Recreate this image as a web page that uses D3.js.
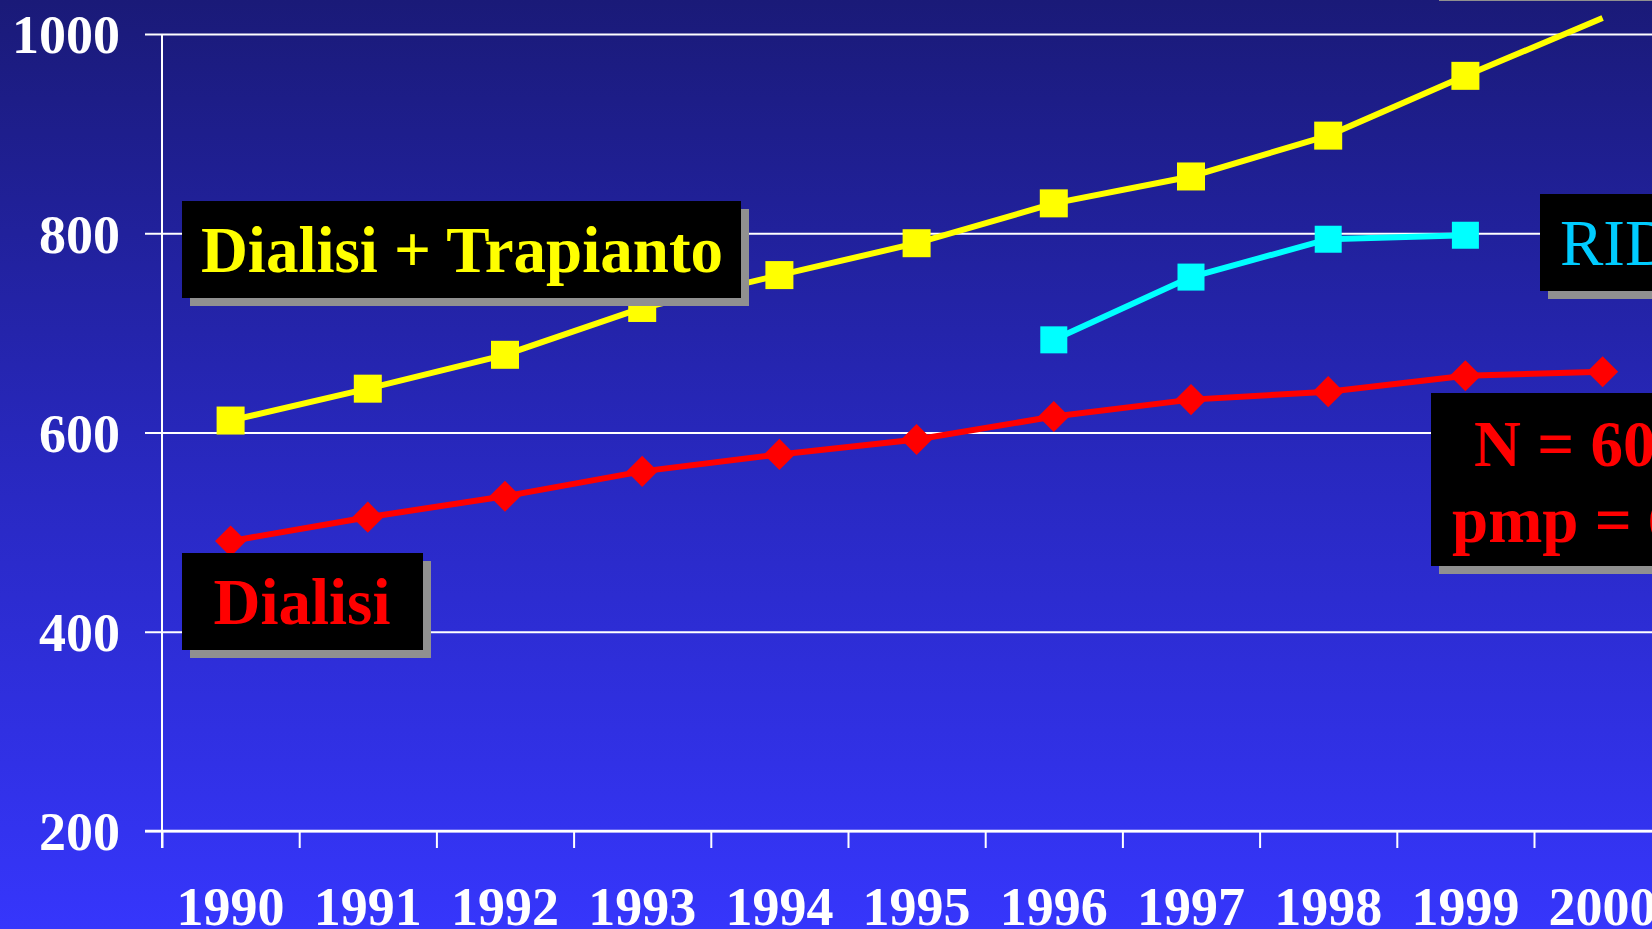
<!DOCTYPE html>
<html>
<head>
<meta charset="utf-8">
<script src="https://cdn.jsdelivr.net/npm/d3@7"></script>
<style>
  html, body { margin: 0; padding: 0; overflow: hidden; }
  svg { display: block; }
  text { font-family: "Liberation Serif", "Times New Roman", serif; }
</style>
</head>
<body>
<div id="chart"></div>
<script>
// anni e valori (pmp)
var years = ["1990", "1991", "1992", "1993", "1994", "1995", "1996", "1997", "1998", "1999", "2000"];
var dialisiTrapianto = [612, 644, 678, 725, 758, 790, 830, 857, 898, 958, 1016];
var dialisi = [491, 515, 536, 561, 578, 593, 616, 633, 641, 657, 661];
var ridtYears = ["1996", "1997", "1998", "1999"];
var ridt = [693, 756, 794, 798];
var yTicks = [200, 400, 600, 800, 1000];

var W = 1652, H = 929;
var BAND = 137.2;

var svg = d3.select("#chart").append("svg")
    .attr("width", W)
    .attr("height", H);

var defs = svg.append("defs");
var grad = defs.append("linearGradient").attr("id", "bg")
    .attr("x1", 0).attr("y1", 0).attr("x2", 0).attr("y2", 1);
grad.append("stop").attr("offset", "0%").attr("stop-color", "#1a1a78");
grad.append("stop").attr("offset", "50%").attr("stop-color", "#2828bf");
grad.append("stop").attr("offset", "100%").attr("stop-color", "#3636fc");

svg.append("rect").attr("width", W).attr("height", H).attr("fill", "url(#bg)");

var x = d3.scaleBand().domain(years).range([162, 162 + years.length * BAND]);
var xEdge = d3.scaleLinear().domain([0, years.length]).range([162, 162 + years.length * BAND]);
var y = d3.scaleLinear().domain([200, 1000]).range([831, 34]);

// griglia orizzontale
svg.append("g")
    .attr("transform", "translate(162,0)")
    .call(d3.axisLeft(y).tickValues(yTicks).tickSize(-(W - 162)).tickFormat(""))
    .call(g => g.select(".domain").remove())
    .call(g => g.selectAll("line").attr("stroke", "#fff").attr("stroke-width", 2));

// asse y con etichette
svg.append("g")
    .attr("transform", "translate(162,0)")
    .call(d3.axisLeft(y).tickValues(yTicks).tickFormat(d3.format("d"))
        .tickSize(17).tickSizeOuter(0).tickPadding(25))
    .call(g => g.select(".domain").remove())
    .call(g => g.selectAll("line").attr("stroke", "#fff").attr("stroke-width", 2))
    .call(g => g.selectAll("text")
        .attr("fill", "#fff")
        .attr("dy", "0.35em")
        .style("font-size", "54px")
        .style("font-weight", "bold"));

svg.append("line")
    .attr("x1", 162).attr("x2", 162)
    .attr("y1", 34).attr("y2", 848)
    .attr("stroke", "#fff").attr("stroke-width", 2);

// asse x: tacche sui bordi, etichette al centro
svg.append("g")
    .attr("transform", "translate(0,831)")
    .call(d3.axisBottom(xEdge).tickValues(d3.range(0, years.length + 1)).tickSize(17).tickFormat(""))
    .call(g => g.select(".domain").remove())
    .call(g => g.selectAll("line").attr("stroke", "#fff").attr("stroke-width", 2));

svg.append("line")
    .attr("x1", 145).attr("x2", W)
    .attr("y1", 831).attr("y2", 831)
    .attr("stroke", "#fff").attr("stroke-width", 2.5);

svg.append("g")
    .attr("transform", "translate(0,831)")
    .call(d3.axisBottom(x).tickSize(0))
    .call(g => g.select(".domain").remove())
    .call(g => g.selectAll("text")
        .attr("y", 94)
        .attr("dy", 0)
        .attr("fill", "#fff")
        .style("font-size", "54px")
        .style("font-weight", "bold"));

var cx = d => x(d.year) + x.bandwidth() / 2;
var line = d3.line().x(cx).y(d => y(d.v));

var yellowData = years.map((yr, i) => ({ year: yr, v: dialisiTrapianto[i] }));
var redData = years.map((yr, i) => ({ year: yr, v: dialisi[i] }));
var cyanData = ridtYears.map((yr, i) => ({ year: yr, v: ridt[i] }));

// serie
svg.append("path").datum(redData).attr("d", line)
    .attr("fill", "none").attr("stroke", "#ff0000").attr("stroke-width", 6);
svg.append("path").datum(cyanData).attr("d", line)
    .attr("fill", "none").attr("stroke", "#00ffff").attr("stroke-width", 6);
svg.append("path").datum(yellowData).attr("d", line)
    .attr("fill", "none").attr("stroke", "#ffff00").attr("stroke-width", 6);

svg.selectAll(".red").data(redData).enter().append("rect")
    .attr("x", -11).attr("y", -11).attr("width", 22).attr("height", 22)
    .attr("transform", d => "translate(" + cx(d) + "," + y(d.v) + ") rotate(45)")
    .attr("fill", "#ff0000");

svg.selectAll(".cyan").data(cyanData).enter().append("rect")
    .attr("x", d => cx(d) - 13.5).attr("y", d => y(d.v) - 13.5)
    .attr("width", 27).attr("height", 27)
    .attr("fill", "#00ffff");

svg.selectAll(".yellow").data(yellowData.filter(d => d.v <= 1000)).enter().append("rect")
    .attr("x", d => cx(d) - 14).attr("y", d => y(d.v) - 14)
    .attr("width", 28).attr("height", 28)
    .attr("fill", "#ffff00");

// riquadri con ombra
function box(bx, by, bw, bh) {
    svg.append("rect").attr("x", bx + 8).attr("y", by + 8).attr("width", bw).attr("height", bh).attr("fill", "#909090");
    svg.append("rect").attr("x", bx).attr("y", by).attr("width", bw).attr("height", bh).attr("fill", "#000");
}
function label(t, tx, ty, color, anchor, weight) {
    svg.append("text").attr("x", tx).attr("y", ty)
        .attr("text-anchor", anchor)
        .attr("fill", color)
        .style("font-size", "65px")
        .style("font-weight", weight)
        .text(t);
}

box(1431, -90, 260, 83);

box(182, 201, 559, 97);
label("Dialisi + Trapianto", 462, 272, "#ffff00", "middle", "bold");

box(182, 553, 241, 97);
label("Dialisi", 302, 624, "#ff0000", "middle", "bold");

box(1540, 194, 200, 97);
label("RIDT", 1560, 265, "#00ccff", "start", "normal");

box(1431, 393, 300, 173);
label("N = 6000", 1474, 466, "#ff0000", "start", "bold");
label("pmp = 660", 1452, 542, "#ff0000", "start", "bold");
</script>
</body>
</html>
